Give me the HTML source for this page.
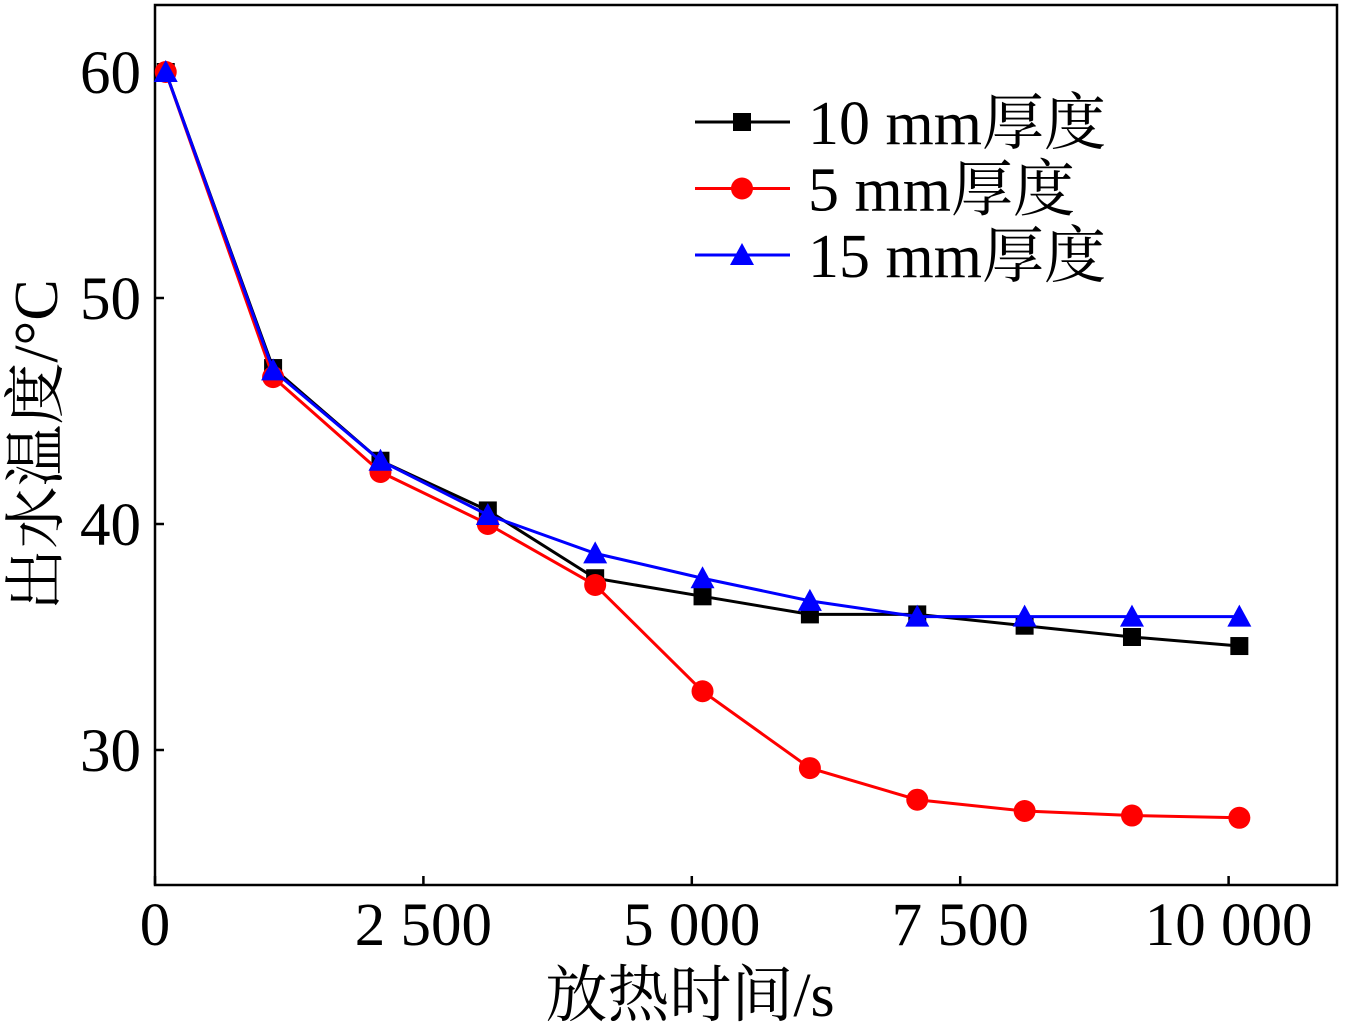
<!DOCTYPE html>
<html><head><meta charset="utf-8"><style>
html,body{margin:0;padding:0;background:#fff}
svg text{font-family:"Liberation Serif","Noto Serif CJK SC",serif;fill:#000}
</style></head><body>
<svg id="chart" width="1346" height="1024" xmlns="http://www.w3.org/2000/svg">
<g id="plot"></g>
</svg>
<script>
const xValues=[100,1100,2100,3100,4100,5100,6100,7100,8100,9100,10100];
const s10=[60,46.9,42.8,40.6,37.6,36.8,36.0,36.0,35.5,35.0,34.6];
const s5=[60,46.5,42.3,40.0,37.3,32.6,29.2,27.8,27.3,27.1,27.0];
const s15=[60,46.8,42.8,40.4,38.7,37.6,36.6,35.9,35.9,35.9,35.9];
const xTicks=[0,2500,5000,7500,10000];
const xTickLabels=["0","2 500","5 000","7 500","10 000"];
const yTicks=[30,40,50,60];
const ns="http://www.w3.org/2000/svg";
const g=document.getElementById('plot');
const L=155,R=1337,T=5,B=885;
const xs=v=>155+v*0.10736;
const ys=v=>72+(60-v)*22.6;
function mk(tag,attrs,parent){const e=document.createElementNS(ns,tag);for(const k in attrs)e.setAttribute(k,attrs[k]);(parent||g).appendChild(e);return e;}
const frame=mk('rect',{x:L,y:T,width:R-L,height:B-T,fill:'none',stroke:'#000','stroke-width':2.5});


xTicks.forEach((v,i)=>{
  const t=mk('line',{x1:xs(v),x2:xs(v),y1:B,y2:B-9,stroke:'#000','stroke-width':2.5});
  
  
  const tx=mk('text',{x:xs(v),y:945,'font-size':61,'text-anchor':'middle'});
  tx.textContent=xTickLabels[i];
  
  
});
yTicks.forEach(v=>{
  const t=mk('line',{x1:L,x2:L+9,y1:ys(v),y2:ys(v),stroke:'#000','stroke-width':2.5});
  
  
  const tx=mk('text',{x:141,y:ys(v)+21,'font-size':61,'text-anchor':'end'});
  tx.textContent=v;
  
  
});
const xl=mk('text',{x:690,y:1016,'font-size':62,'text-anchor':'middle'});
xl.textContent='放热时间/s';


const yl=mk('text',{x:0,y:0,'font-size':62,'text-anchor':'middle',transform:'translate(57,445) rotate(-90)'});
yl.textContent='出水温度/°C';


function marker(type,x,y,color,parent){
  if(type==='sq')return mk('rect',{x:x-9,y:y-9,width:18,height:18,fill:color},parent);
  if(type==='ci')return mk('circle',{cx:x,cy:y,r:11,fill:color},parent);
  return mk('polygon',{points:`${x},${y-12} ${x-12},${y+10} ${x+12},${y+10}`,fill:color},parent);
}
const series=[[s10,'#000','sq','series-10mm'],[s5,'#f00','ci','series-5mm'],[s15,'#00f','tr','series-15mm']];
series.forEach(([d,c,m,n])=>{
  const sg=mk('g',{});
  
  
  const p=mk('polyline',{points:d.map((v,i)=>xs(xValues[i])+','+ys(v)).join(' '),fill:'none',stroke:c,'stroke-width':3},sg);
  
  
  d.forEach((v,i)=>{const e=marker(m,xs(xValues[i]),ys(v),c,sg);
    
    });
});
const legendLabels=['10 mm厚度','5 mm厚度','15 mm厚度'];
const lg=mk('g',{});


series.forEach(([d,c,m,n],i)=>{
  const y=122+i*66.5;
  const eg=mk('g',{},lg);
  
  
  mk('line',{x1:695,x2:790,y1:y,y2:y,stroke:c,'stroke-width':3},eg);
  marker(m,742,y,c,eg);
  const t=mk('text',{x:808,y:y+22,'font-size':62},eg);
  t.textContent=legendLabels[i];
});
</script>
</body></html>
